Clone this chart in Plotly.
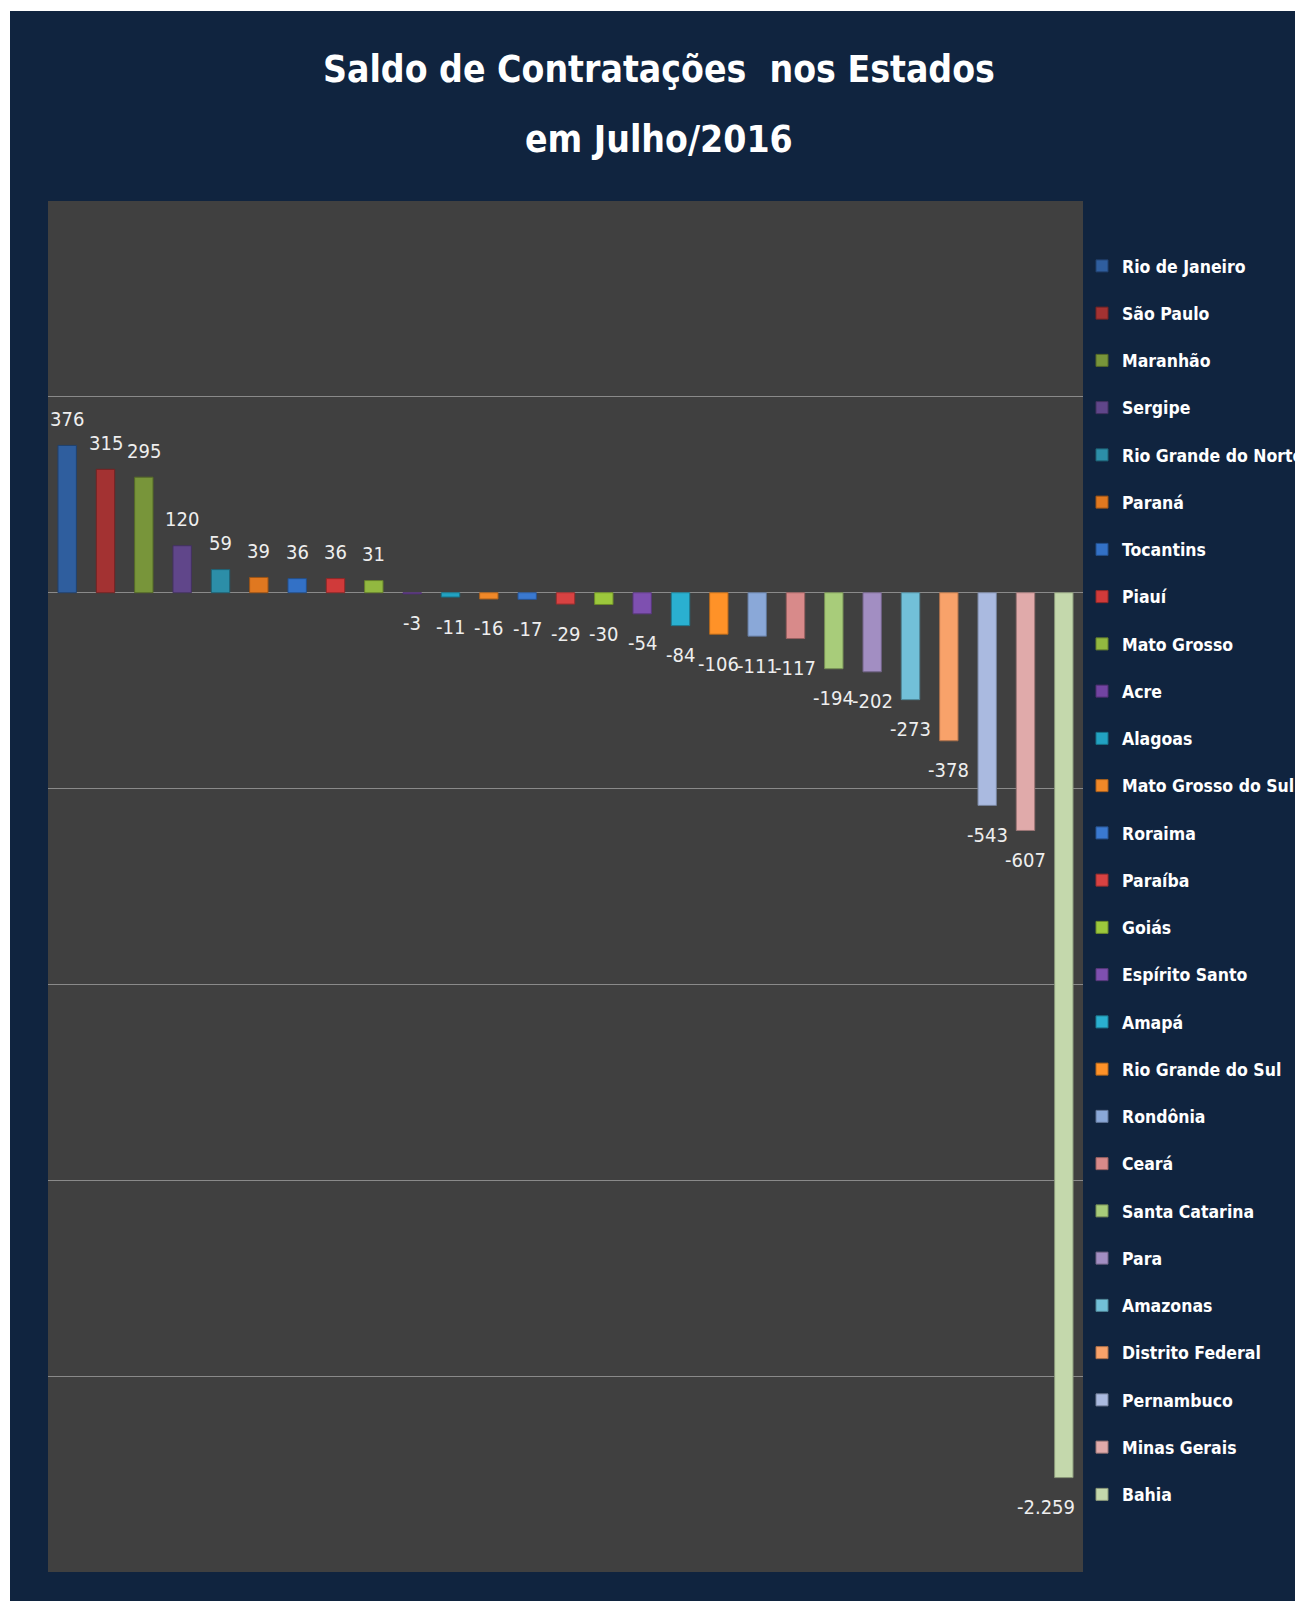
import plotly.graph_objects as go

states = ["Rio de Janeiro", "São Paulo", "Maranhão", "Sergipe", "Rio Grande do Norte",
          "Paraná", "Tocantins", "Piauí", "Mato Grosso", "Acre", "Alagoas",
          "Mato Grosso do Sul", "Roraima", "Paraíba", "Goiás", "Espírito Santo", "Amapá",
          "Rio Grande do Sul", "Rondônia", "Ceará", "Santa Catarina", "Para", "Amazonas",
          "Distrito Federal", "Pernambuco", "Minas Gerais", "Bahia"]
saldo = [376, 315, 295, 120, 59, 39, 36, 36, 31, -3, -11, -16, -17, -29, -30, -54, -84,
         -106, -111, -117, -194, -202, -273, -378, -543, -607, -2259]

title_line1 = "Saldo de Contratações  nos Estados"
title_line2 = "em Julho/2016"

colors = ["#2f5e9e", "#a33232", "#78953a", "#60468a", "#2c8ea8", "#e07820",
          "#3371c6", "#d03a3a", "#92b840", "#7244a2", "#22a2c2", "#f08828",
          "#3a79d0", "#d84242", "#9cc83c", "#7e50b0", "#2ab0d0", "#ff9228",
          "#8aa8d8", "#d88a8a", "#a8cc7a", "#a28ec2", "#72c0d8", "#f8a26a",
          "#aabae0", "#e0aaaa", "#c4d8ac"]


def darker(hex_color, f=0.7):
    h = hex_color.lstrip("#")
    r, g, b = (int(h[i:i + 2], 16) for i in (0, 2, 4))
    return "#%02x%02x%02x" % (int(r * f), int(g * f), int(b * f))


def fmt(v):
    return f"{v:,}".replace(",", ".")


NAVY = "#10243f"
FONT_NARROW = "DejaVu Sans Condensed, Liberation Sans Narrow, sans-serif"

fig = go.Figure()
label_annotations = []
n = len(states)
for i, (name, val, col) in enumerate(zip(states, saldo, colors)):
    fig.add_trace(go.Bar(
        x=[name], y=[val], name=name, legendgroup=f"g{i}",
        width=0.48,
        marker=dict(color=col, line=dict(color=darker(col), width=1)),
        hovertemplate="%{x}: %{y:,.0f}<extra></extra>",
    ))
    last = i == n - 1
    label_annotations.append(dict(
        x=name, y=val, xref="x", yref="y", text=fmt(val), showarrow=False,
        # keep the last label inside the plot area, as in the original chart
        xanchor="right" if last else "center", xshift=13 if last else 0,
        yanchor="middle", yshift=26.5 if val >= 0 else -29.5,
        font=dict(family=FONT_NARROW, size=20, color="#eeeeee"),
    ))

W, H = 1295, 1601
L, R, T, B = 48, 212, 201, 29
pw, ph = W - L - R, H - T - B


def px_x(p):
    return (p - L) / pw


def px_y(p):
    return (H - B - p) / ph


fig.update_layout(
    width=W, height=H,
    margin=dict(l=L, r=R, t=T, b=B, autoexpand=False),
    paper_bgcolor=NAVY,
    plot_bgcolor="#404040",
    barmode="overlay",
    separators=",.",
    xaxis=dict(showticklabels=False, showgrid=False, zeroline=False, showline=False,
               ticks="", fixedrange=True, range=[-0.5, n - 0.5]),
    yaxis=dict(range=[-2500, 1000], dtick=500, showticklabels=False, ticks="",
               showgrid=True, gridcolor="#8a8a8a", gridwidth=1,
               zeroline=True, zerolinecolor="#8a8a8a", zerolinewidth=1,
               showline=False),
    legend=dict(
        x=px_x(1082), xanchor="left", y=px_y(248), yanchor="top",
        traceorder="grouped", tracegroupgap=21.5,
        font=dict(family=FONT_NARROW, size=17.5, color="#ffffff", weight="bold"),
        bgcolor="rgba(0,0,0,0)", itemwidth=30,
    ),
    showlegend=True,
    annotations=label_annotations + [
        dict(text=f"<b>{title_line1}</b>", xref="paper", yref="paper",
             x=px_x(659), y=px_y(70), xanchor="center", yanchor="middle",
             showarrow=False, font=dict(family=FONT_NARROW, size=37, color="#ffffff")),
        dict(text=f"<b>{title_line2}</b>", xref="paper", yref="paper",
             x=px_x(659), y=px_y(140), xanchor="center", yanchor="middle",
             showarrow=False, font=dict(family=FONT_NARROW, size=37, color="#ffffff")),
    ],
    shapes=[
        dict(type="rect", xref="paper", yref="paper", x0=px_x(-5), x1=px_x(10),
             y0=px_y(H + 5), y1=px_y(-5), fillcolor="#ffffff", line=dict(width=0),
             layer="below"),
        dict(type="rect", xref="paper", yref="paper", x0=px_x(-5), x1=px_x(W + 5),
             y0=px_y(11), y1=px_y(-5), fillcolor="#ffffff", line=dict(width=0),
             layer="below"),
    ],
)

fig.write_html(
    "out.html",
    config={"displayModeBar": False},
    post_script="document.body.style.margin='0';document.body.style.overflow='hidden';",
)
